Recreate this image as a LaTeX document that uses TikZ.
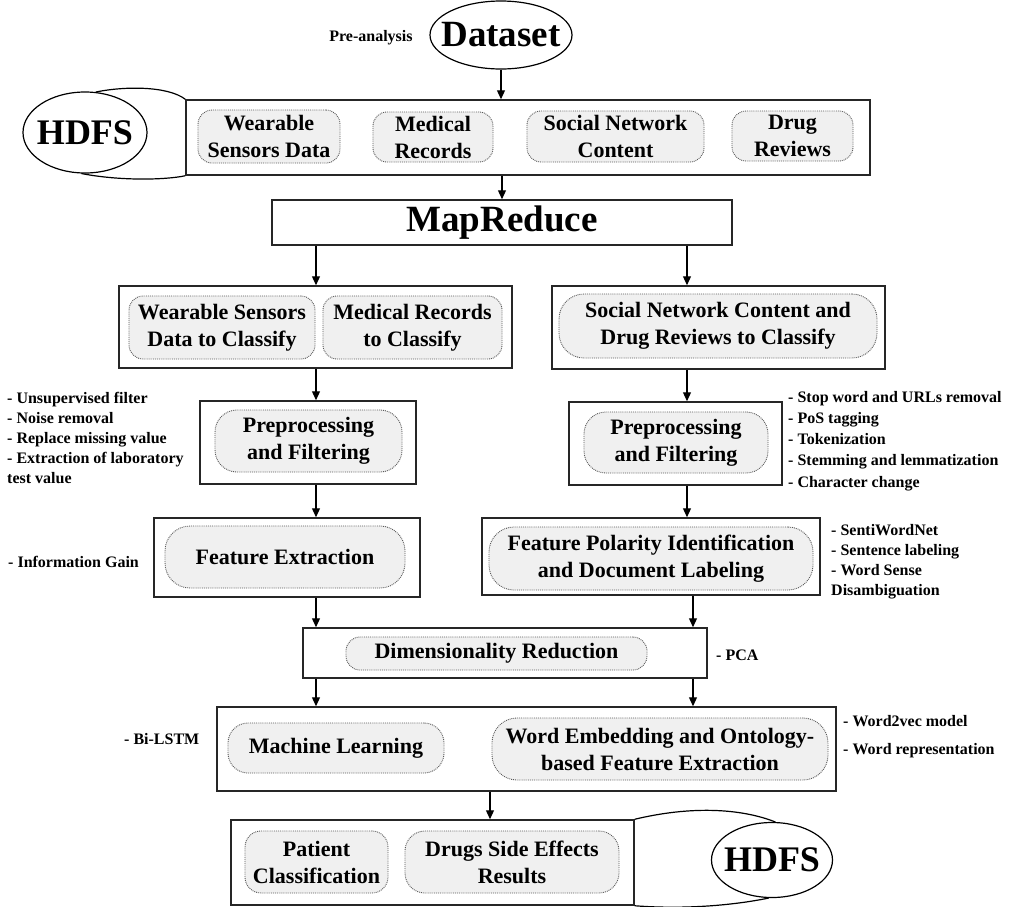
\documentclass[tikz,border=0pt]{standalone}
\usepackage{fontspec}
\setmainfont{Liberation Serif}
\usetikzlibrary{shapes.geometric,arrows.meta}
\newcommand{\boxfont}{\fontsize{22}{27}\selectfont\bfseries}
\newcommand{\notefont}{\fontsize{16}{20}\selectfont\bfseries}
\newcommand{\hdfsfont}{\fontsize{36}{40}\selectfont\bfseries}
\newcommand{\bigfont}{\fontsize{37}{40}\selectfont\bfseries}

\begin{document}
\begin{tikzpicture}[x=1pt,y=-1pt,
  outer/.style={draw=black!85,line width=1.5pt,fill=white,inner sep=0pt},
  inner/.style={draw=black!65,densely dotted,line width=0.9pt,fill=black!6,rounded corners=14pt,align=center,font=\boxfont,inner sep=0pt},
  oval/.style={ellipse,draw=black,line width=1.2pt,fill=white,inner sep=0pt},
  note/.style={anchor=west,align=left,font=\notefont,inner sep=0pt},
  arr/.style={-{Triangle[length=9pt,width=8pt]},line width=1.2pt},
  tube/.style={line width=1.2pt}]
\useasboundingbox (0,0) rectangle (1010,906);
\node[oval,minimum width=142,minimum height=68,label={[font=\bigfont]center:Dataset}] (dataset) at (501,35) {};
\node[font=\notefont,inner sep=0pt] (preana) at (371,38) {Pre-analysis};
\node[outer,minimum width=684,minimum height=75] (src) at (528,137.5) {};
\node[inner,minimum width=142,minimum height=53] (wsd) at (269,136.5) {Wearable\\Sensors Data};
\node[inner,minimum width=120,minimum height=50] (mrec) at (433,137) {Medical\\Records};
\node[inner,minimum width=177,minimum height=51] (snc) at (615.5,136.5) {Social Network\\Content};
\node[inner,minimum width=121,minimum height=50] (drev) at (792.5,136) {Drug\\Reviews};
\node[oval,minimum width=124,minimum height=81,label={[font=\hdfsfont]center:HDFS}] (hdfsA) at (85,132.5) {};
\node[outer,minimum width=460,minimum height=45,font=\bigfont] (mapred) at (502,222.5) {MapReduce};
\node[outer,minimum width=393,minimum height=82] (lbox) at (315.5,327) {};
\node[inner,minimum width=186,minimum height=63] (wsdc) at (222,327.5) {Wearable Sensors\\Data to Classify};
\node[inner,minimum width=179,minimum height=63] (mrc) at (412.5,327.5) {Medical Records\\to Classify};
\node[outer,minimum width=333,minimum height=83] (rbox) at (718.5,327.5) {};
\node[inner,minimum width=318,minimum height=64,rounded corners=25pt] (sncd) at (718,326) {Social Network Content and\\Drug Reviews to Classify};
\node[outer,minimum width=216,minimum height=83] (prel) at (308,442.5) {};
\node[inner,minimum width=187,minimum height=62,rounded corners=22pt] (prelin) at (308.5,441) {Preprocessing\\and Filtering};
\node[outer,minimum width=213,minimum height=83] (prer) at (675.5,443.5) {};
\node[inner,minimum width=184,minimum height=61,rounded corners=22pt] (prerin) at (676,442.5) {Preprocessing\\and Filtering};
\node[outer,minimum width=266,minimum height=79] (featl) at (287,557.5) {};
\node[inner,minimum width=240,minimum height=62,rounded corners=25pt] (featlin) at (285,557) {Feature Extraction};
\node[outer,minimum width=338,minimum height=77] (featr) at (651,556.5) {};
\node[inner,minimum width=324,minimum height=63,rounded corners=25pt] (featrin) at (651,558.5) {Feature Polarity Identification\\and Document Labeling};
\node[outer,minimum width=404,minimum height=50] (dim) at (505,653) {};
\node[inner,minimum width=301,minimum height=33,rounded corners=14pt] (dimin) at (496.5,653.5) {Dimensionality Reduction};
\node[outer,minimum width=619,minimum height=84] (mlbox) at (526.5,749) {};
\node[inner,minimum width=216,minimum height=50,rounded corners=20pt] (ml) at (336,748) {Machine Learning};
\node[inner,minimum width=336,minimum height=62,rounded corners=25pt] (we) at (660,749) {Word Embedding and Ontology-\\based Feature Extraction};
\node[outer,minimum width=403,minimum height=85] (res) at (432.5,862.5) {};
\node[inner,minimum width=143,minimum height=62,rounded corners=16pt] (pat) at (316.5,862) {Patient\\Classification};
\node[inner,minimum width=214,minimum height=62,rounded corners=20pt] (dse) at (512,862) {Drugs Side Effects\\Results};
\node[oval,minimum width=121,minimum height=75,label={[font=\hdfsfont]center:HDFS}] (hdfsB) at (772,860) {};
\node[note] (nprel) at (7,438) {- Unsupervised filter\\- Noise removal\\- Replace missing value\\- Extraction of laboratory\\test value};
\node[note] (nfeatl) at (8,562) {- Information Gain};
\node[note,font=\fontsize{16}{21.2}\selectfont\bfseries] (nprer) at (788,441) {- Stop word and URLs removal\\- PoS tagging\\- Tokenization\\- Stemming and lemmatization\\- Character change};
\node[note] (nfeatr) at (831,562) {- SentiWordNet\\- Sentence labeling\\- Word Sense\\Disambiguation};
\node[note] (ndim) at (716,655) {- PCA};
\node[note] (nml) at (124,739) {- Bi-LSTM};
\node[note,font=\fontsize{16}{28}\selectfont\bfseries] (nwe) at (843,737) {- Word2vec model\\- Word representation};
\coordinate (cl) at (316,0);
\coordinate (cr) at (687,0);
\coordinate (cq) at (693,0);
\coordinate (cm) at (490,0);
\draw[arr] (dataset.south) -- (dataset.south |- src.north);
\draw[arr] (mapred.north |- src.south) -- (mapred.north);
\draw[arr] (mapred.south -| cl) -- (lbox.north -| cl);
\draw[arr] (mapred.south -| cr) -- (rbox.north -| cr);
\draw[arr] (lbox.south -| cl) -- (prel.north -| cl);
\draw[arr] (rbox.south -| cr) -- (prer.north -| cr);
\draw[arr] (prel.south -| cl) -- (featl.north -| cl);
\draw[arr] (prer.south -| cr) -- (featr.north -| cr);
\draw[arr] (featl.south -| cl) -- (dim.north -| cl);
\draw[arr] (featr.south -| cq) -- (dim.north -| cq);
\draw[arr] (dim.south -| cl) -- (mlbox.north -| cl);
\draw[arr] (dim.south -| cq) -- (mlbox.north -| cq);
\draw[arr] (mlbox.south -| cm) -- (res.north -| cm);
\draw[tube] (hdfsA.75) .. controls (125,86) and (168,86) .. (src.north west);
\draw[tube] (hdfsA.-95) .. controls (120,181) and (165,180) .. (src.south west);
\draw[tube] (res.north east) .. controls (690,806) and (740,808) .. (hdfsB.85);
\draw[tube] (res.south east) .. controls (690,910) and (740,904) .. (hdfsB.-95);
\end{tikzpicture}
\end{document}
